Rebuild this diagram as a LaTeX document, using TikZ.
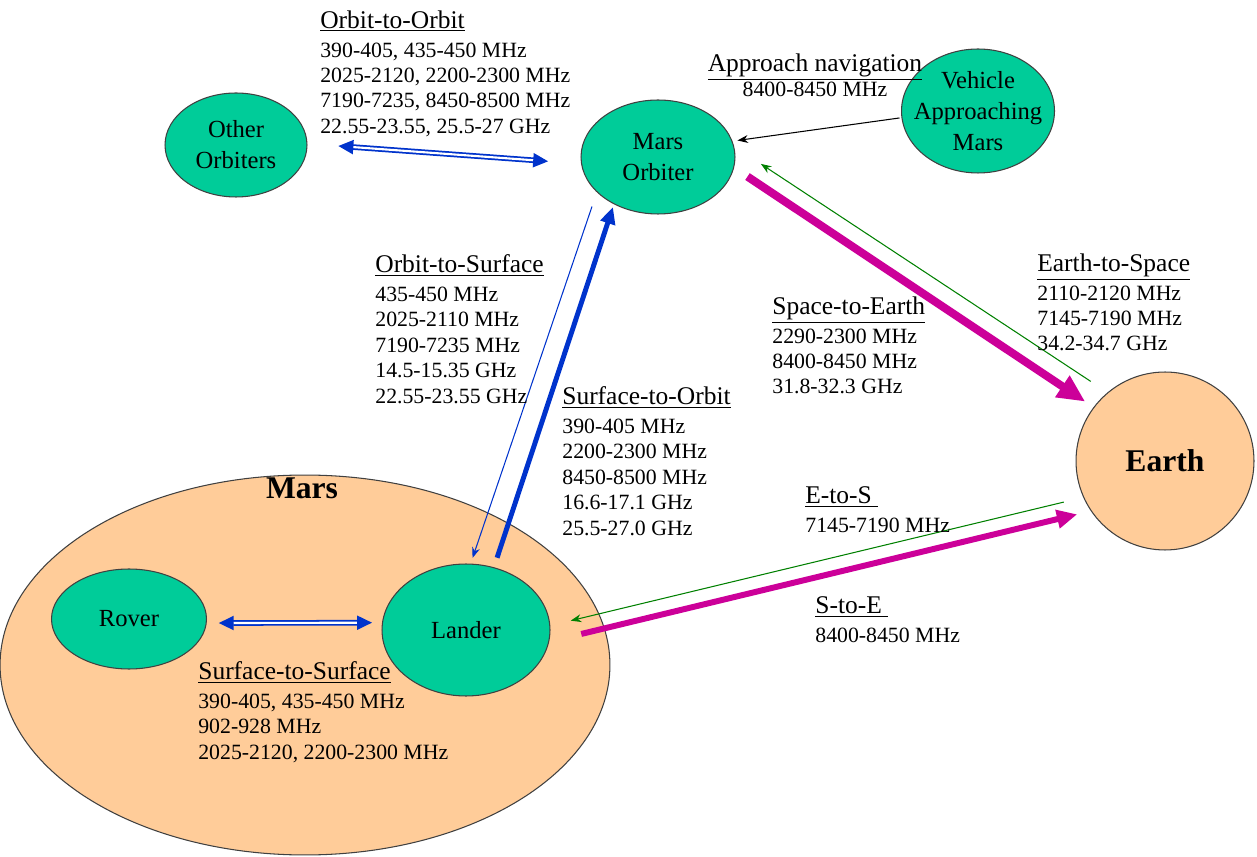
\documentclass[tikz,border=0pt]{standalone}
\usepackage{fontspec}
\setmainfont{Liberation Serif}
\usetikzlibrary{shapes.geometric,arrows.meta}

\definecolor{seagreen}{RGB}{0,204,153}
\definecolor{peach}{RGB}{255,204,153}
\definecolor{linkblue}{RGB}{0,51,204}
\definecolor{linkpink}{RGB}{204,0,153}
\definecolor{linkgreen}{RGB}{0,128,0}

\newcommand\bandtitle[1]{{\fontsize{14.5}{17}\selectfont\underline{#1}}}

\begin{document}
\begin{tikzpicture}[x=0.02cm, y=-0.02cm,
    craft/.style={ellipse, draw=black!75, line width=0.6pt, fill=seagreen, inner sep=0pt, align=center, font=\fontsize{14}{17.6}\selectfont},
    planet/.style={ellipse, draw=black!75, line width=0.6pt, fill=peach, inner sep=0pt},
    band/.style={anchor=north west, inner sep=0pt, align=left, font=\fontsize{12.4}{14.5}\selectfont},
    duplex/.style={draw=linkblue, double=white, line width=1pt, double distance=1.2pt, {Triangle[length=8.5pt,width=8pt]}-{Triangle[length=8.5pt,width=8pt]}},
    thinlink/.style={line width=0.6pt, -{Stealth[length=6pt,width=4.5pt]}},
    thicklink/.style={line width=#1, -{Triangle[length=3.4*#1,width=3*#1]}}
]
\useasboundingbox (0,0) rectangle (1257,857);

% Mars surface (lower left)
\node[planet, minimum width=12.2cm, minimum height=7.6cm] (mars) at (305,665) {};
\node[font=\bfseries\fontsize{18}{20}\selectfont] (marslabel) at (302,488) {Mars};
\node[craft, minimum width=3.1cm, minimum height=2cm] (rover) at (129,619) {Rover};
\node[craft, minimum width=3.36cm, minimum height=2.64cm] (lander) at (466,630) {Lander};

% Orbiters and approaching vehicle (top)
\node[craft, minimum width=2.84cm, minimum height=2.08cm] (other) at (236,145) {Other\\Orbiters};
\node[craft, minimum width=3.08cm, minimum height=2.28cm] (orbiter) at (658,157) {Mars\\Orbiter};
\node[craft, inner xsep=-10pt, inner ysep=-4pt, minimum width=3.06cm, minimum height=2.48cm] (vehicle) at (978,111) {Vehicle\\Approaching\\Mars};

% Earth (right)
\node[planet, circle, minimum size=3.56cm, font=\bfseries\fontsize{18}{20}\selectfont] (earth) at (1165,461) {Earth};

% Links
\draw[duplex, shorten <=0.62cm, shorten >=0.66cm] (other.1) -- (orbiter.185.6);
\draw[duplex, shorten <=0.24cm, shorten >=0.2cm] (rover.-3.7) -- (lander.175.9);
\draw[thinlink, linkblue, shorten <=0.3cm, shorten >=0.12cm] (orbiter.210.7) -- (lander.86.6);
\draw[thicklink=2.8pt, linkblue, shorten <=0.2cm, shorten >=0.06cm] (lander.66.8) -- (orbiter.227.7);
\draw[thinlink, black, shorten <=0.04cm, shorten >=0.1cm] (vehicle.185.1) -- (orbiter.12.5);
\draw[thicklink=4.6pt, linkpink, shorten <=0.32cm, shorten >=0.2cm] (orbiter.-8.3) -- (earth.143.3);
\draw[thinlink, linkgreen, shorten <=0.4cm, shorten >=0.64cm] (earth.130.5) -- (orbiter.8.8);
\draw[thinlink, linkgreen, shorten <=0.4cm, shorten >=0.42cm] (earth.204.9) -- (lander.3.6);
\draw[thicklink=3.4pt, linkpink, shorten <=0.66cm, shorten >=0.28cm] (lander.-8.1) -- (earth.214);

% Frequency bands
\node[band] (o2o) at (320,10) {\bandtitle{Orbit-to-Orbit}\\[2pt]
    390-405, 435-450 MHz\\ 2025-2120, 2200-2300 MHz\\ 7190-7235, 8450-8500 MHz\\ 22.55-23.55, 25.5-27 GHz};
\node[band, anchor=north, align=center] (appr) at (815,53) {\bandtitle{Approach navigation}\\ 8400-8450 MHz};
\node[band] (o2s) at (375,254) {\bandtitle{Orbit-to-Surface}\\[2pt]
    435-450 MHz\\ 2025-2110 MHz\\ 7190-7235 MHz\\ 14.5-15.35 GHz\\ 22.55-23.55 GHz};
\node[band] (s2o) at (562,386) {\bandtitle{Surface-to-Orbit}\\[2pt]
    390-405 MHz\\ 2200-2300 MHz\\ 8450-8500 MHz\\ 16.6-17.1 GHz\\ 25.5-27.0 GHz};
\node[band] (s2e) at (772,296) {\bandtitle{Space-to-Earth}\\[2pt]
    2290-2300 MHz\\ 8400-8450 MHz\\ 31.8-32.3 GHz};
\node[band] (e2s) at (1037,253) {\bandtitle{Earth-to-Space}\\[2pt]
    2110-2120 MHz\\ 7145-7190 MHz\\ 34.2-34.7 GHz};
\node[band] (etos) at (805,486) {\bandtitle{E-to-S~}\\[2pt] 7145-7190 MHz};
\node[band] (stoe) at (815,596) {\bandtitle{S-to-E~}\\[2pt] 8400-8450 MHz};
\node[band] (s2s) at (198,661) {\bandtitle{Surface-to-Surface}\\[2pt]
    390-405, 435-450 MHz\\ 902-928 MHz\\ 2025-2120, 2200-2300 MHz};
\end{tikzpicture}
\end{document}
